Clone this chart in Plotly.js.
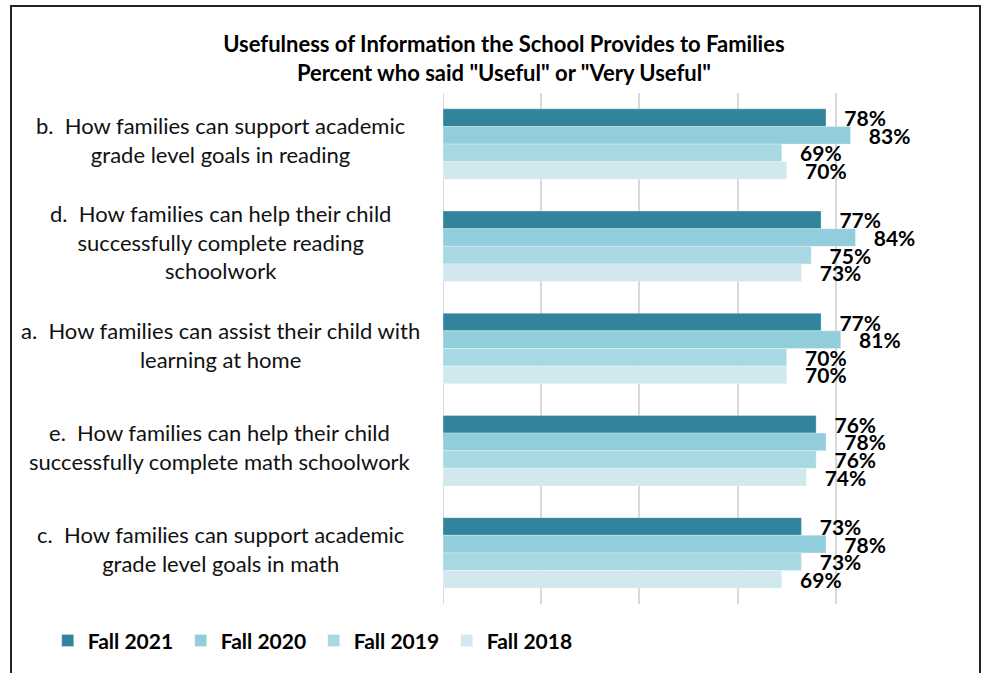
<!DOCTYPE html>
<html>
<head>
<meta charset="utf-8">
<script src="https://cdn.plot.ly/plotly-3.0.1.min.js"></script>
<style>
  html, body { margin: 0; padding: 0; background: #fff; }
  #wrap { position: relative; width: 990px; height: 673px; overflow: hidden; }
  #chart { position: absolute; left: 0; top: 0; width: 990px; height: 673px; }
  #frame { position: absolute; left: 10px; top: 5px; width: 971px; height: 700px;
           border: 2px solid #222; pointer-events: none; box-sizing: border-box; }
</style>
</head>
<body>
<div id="wrap">
  <div id="chart"></div>
  <div id="frame"></div>
</div>
<script>
const categories = ["b", "d", "a", "e", "c"];
const categoryLabels = [
  "b.  How families can support academic<br>grade level goals in reading",
  "d.  How families can help their child<br>successfully complete reading<br>schoolwork",
  "a.  How families can assist their child with<br>learning at home",
  "e.  How families can help their child<br>successfully complete math schoolwork",
  "c.  How families can support academic<br>grade level goals in math"
];
const seriesNames = ["Fall 2021", "Fall 2020", "Fall 2019", "Fall 2018"];
const fall2021 = [78, 77, 77, 76, 73];
const fall2020 = [83, 84, 81, 78, 78];
const fall2019 = [69, 75, 70, 76, 73];
const fall2018 = [70, 73, 70, 74, 69];
const seriesValues = [fall2021, fall2020, fall2019, fall2018];
const seriesColors = ["#31849B", "#92CDDC", "#A8D9E3", "#D0E8EE"];

const FONT = "Lato, 'Open Sans', sans-serif";

const traces = seriesNames.map((name, i) => ({
  type: "bar",
  orientation: "h",
  name: name,
  y: categories,
  x: seriesValues[i],
  marker: { color: seriesColors[i], line: { color: "rgba(255,255,255,0.6)", width: 0.5 } },
  texttemplate: "\u00a0\u00a0\u00a0%{x}%",
  textposition: "outside",
  constraintext: "none",
  cliponaxis: false,
  textfont: { family: FONT, size: 21, color: "#000", weight: "bold" },
  hoverinfo: "skip"
}));

const annotations = categories.map((c, i) => ({
  xref: "paper", yref: "y",
  x: -0.454, y: c, yshift: 4,
  text: categoryLabels[i],
  showarrow: false,
  xanchor: "center", yanchor: "middle", align: "center",
  font: { family: FONT, size: 22, color: "#111" }
}));

const layout = {
  width: 990, height: 673,
  paper_bgcolor: "#fff", plot_bgcolor: "#fff",
  margin: { l: 443, r: 56, t: 93, b: 65 },
  barmode: "group",
  bargap: 0.31,
  bargroupgap: 0,
  title: {
    text: "Usefulness of Information the School Provides to Families<br>Percent who said \"Useful\" or \"Very Useful\"",
    xref: "container", yref: "container",
    x: 0.509, y: 0.922, xanchor: "center", yanchor: "middle",
    font: { family: FONT, size: 22, color: "#000", weight: "bold" }
  },
  xaxis: {
    range: [0, 100], dtick: 20, tick0: 0,
    showgrid: true, gridcolor: "#D9D9D9", gridwidth: 2,
    zeroline: false, showline: false, showticklabels: false, ticks: "",
    fixedrange: true
  },
  yaxis: {
    autorange: "reversed", type: "category",
    showticklabels: false, ticks: "", showgrid: false, zeroline: false, showline: false,
    fixedrange: true
  },
  shapes: [{
    type: "line", xref: "x", yref: "paper", x0: 0, x1: 0, y0: 0, y1: 1,
    line: { color: "#D9D9D9", width: 2 }, layer: "below"
  }],
  annotations: annotations,
  showlegend: true,
  legend: {
    orientation: "h",
    xref: "paper", yref: "paper",
    x: -0.805, y: -0.072, xanchor: "left", yanchor: "middle",
    entrywidth: 88, entrywidthmode: "pixels",
    font: { family: FONT, size: 21, color: "#000", weight: "bold" },
    traceorder: "normal"
  }
};

Plotly.newPlot("chart", traces, layout, { staticPlot: true, displayModeBar: false });
</script>
</body>
</html>
